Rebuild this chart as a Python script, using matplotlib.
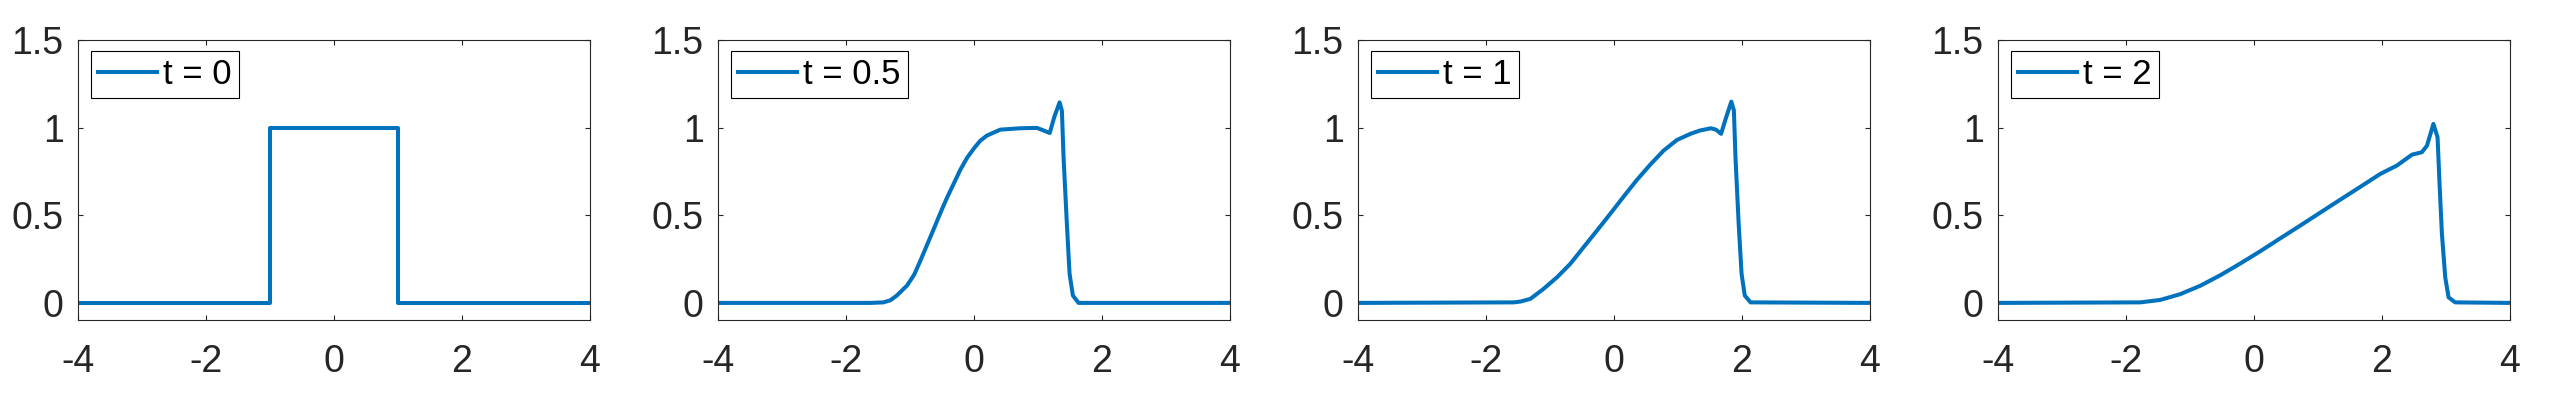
import numpy as np
import matplotlib
matplotlib.use("Agg")
import matplotlib.pyplot as plt

plt.rcParams['font.family'] = ['Liberation Sans', 'DejaVu Sans']

# values, one curve per time
x_t0 = [-4, -1.0, -1.0, 1.0, 1.0, 4]
u_t0 = [0, 0, 1, 1, 0, 0]

x_t05 = [-4, -1.6, -1.41, -1.30, -1.20, -1.04, -0.93, -0.83, -0.625, -0.5, -0.416, -0.208,
         -0.1, 0, 0.1, 0.208, 0.417, 0.73, 0.99, 1.068, 1.19, 1.26, 1.344, 1.38, 1.406,
         1.458, 1.5, 1.552, 1.64, 4]
u_t05 = [0, 0, 0.003, 0.015, 0.042, 0.099, 0.16, 0.242, 0.42, 0.53, 0.60, 0.76,
         0.83, 0.88, 0.925, 0.956, 0.99, 0.998, 1.0, 0.989, 0.971, 1.061, 1.146, 1.099, 0.832,
         0.451, 0.166, 0.042, 0.0, 0]

x_t1 = [-4, -1.56, -1.45, -1.30, -1.094, -0.885, -0.677, -0.469, -0.26, -0.052, 0.156,
        0.365, 0.573, 0.781, 0.99, 1.2, 1.35, 1.52, 1.6, 1.68, 1.75, 1.84, 1.88, 1.905,
        1.955, 2.0, 2.05, 2.14, 4]
u_t1 = [0, 0.003, 0.008, 0.023, 0.08, 0.146, 0.223, 0.318, 0.413, 0.509, 0.607,
        0.703, 0.79, 0.87, 0.931, 0.966, 0.985, 0.998, 0.99, 0.966, 1.05, 1.15, 1.10, 0.83,
        0.45, 0.166, 0.042, 0.003, 0]

x_t2 = [-4, -1.77, -1.458, -1.145, -0.833, -0.52, -0.208, 0.104, 0.417, 0.73, 1.042,
        1.355, 1.667, 1.98, 2.24, 2.475, 2.63, 2.71, 2.81, 2.875, 2.906, 2.943, 2.995,
        3.047, 3.15, 4]
u_t2 = [0, 0.003, 0.017, 0.05, 0.098, 0.158, 0.225, 0.295, 0.369, 0.442, 0.516,
        0.59, 0.663, 0.737, 0.785, 0.847, 0.861, 0.899, 1.023, 0.946, 0.68, 0.394, 0.146,
        0.032, 0.003, 0]

labels = ['t = 0', 't = 0.5', 't = 1', 't = 2']
curves = [(x_t0, u_t0), (x_t05, u_t05), (x_t1, u_t1), (x_t2, u_t2)]

xticks = [-4, -2, 0, 2, 4]
xticklabels = ['-4', '-2', '0', '2', '4']
yticks = [0, 0.5, 1, 1.5]
yticklabels = ['0', '0.5', '1', '1.5']

blue = '#0072BD'
dark = '#262626'

fig = plt.figure(figsize=(25.6, 4), dpi=100)

for k, ((xs, us), lab) in enumerate(zip(curves, labels)):
    ax = fig.add_axes([0.0303 + 0.25 * k, 0.199, 0.2, 0.7])
    ax.plot(xs, us, color=blue, lw=2.9, label=lab)
    ax.set_xlim(-4, 4)
    ax.set_ylim(-0.1, 1.5)
    ax.set_xticks(xticks)
    ax.set_xticklabels(xticklabels)
    ax.set_yticks(yticks)
    ax.set_yticklabels(yticklabels)
    for s in ax.spines.values():
        s.set_color(dark)
        s.set_linewidth(0.8)
    ax.tick_params(axis='both', direction='in', length=3.6, width=0.8, color=dark,
                   labelcolor=dark, labelsize=27, top=True, right=True)
    ax.tick_params(axis='x', pad=17)
    ax.tick_params(axis='y', pad=10)
    leg = ax.legend(loc='upper left', bbox_to_anchor=(0.027, 0.961), borderaxespad=0,
                    fontsize=25, fancybox=False, framealpha=1, edgecolor='black',
                    handlelength=1.7, handletextpad=0.17, borderpad=0.2)
    leg.get_frame().set_linewidth(0.8)

fig.savefig('out.png', dpi=100)
